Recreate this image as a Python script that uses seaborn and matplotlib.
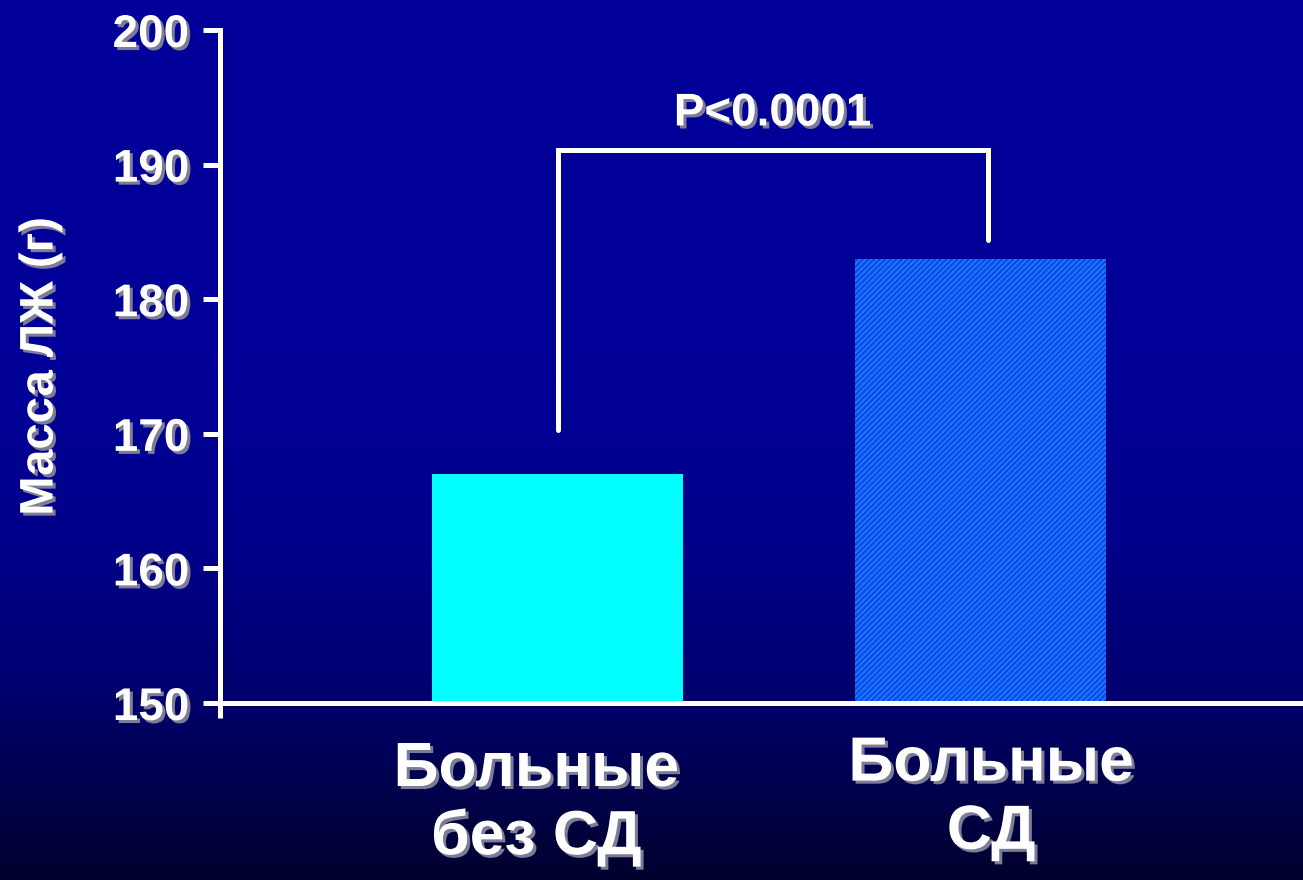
import numpy as np
import pandas as pd
import matplotlib
matplotlib.use("Agg")
import matplotlib.pyplot as plt
import matplotlib.patheffects as pe
from matplotlib.colors import LinearSegmentedColormap
import seaborn as sns

# Data
groups = ["Больные\nбез СД", "Больные\nСД"]
lv_mass = [167, 183]
y_ticks = [150, 160, 170, 180, 190, 200]
p_label = "P<0.0001"
bracket_y = [170.3, 191.1, 191.1, 184.4]

sns.set_theme(style="white")
plt.rcParams["font.family"] = ["Liberation Sans", "DejaVu Sans"]
plt.rcParams["hatch.linewidth"] = 1.6

fig = plt.figure(figsize=(13.03, 8.8), dpi=100)

# Vertical gradient background
bg = fig.add_axes([0, 0, 1, 1], zorder=-10)
cmap = LinearSegmentedColormap.from_list(
    "bg", [(0.0, "#000099"), (0.40, "#000098"), (0.62, "#00008a"),
           (0.78, "#000070"), (1.0, "#00002e")])
grad = np.linspace(0, 1, 512).reshape(-1, 1)
bg.imshow(grad, aspect="auto", cmap=cmap, extent=[0, 1, 0, 1], origin="upper")
bg.set_axis_off()

ax = fig.add_axes([220 / 1303, 1 - 703 / 880, 1 - 220 / 1303, (703 - 30) / 880])
ax.set_facecolor("none")

df = pd.DataFrame({"group": groups, "mass": lv_mass})
sns.barplot(data=df, x="group", y="mass", hue="group",
            palette=["#00ffff", "#1f7cff"], width=0.593, legend=False,
            saturation=1, linewidth=0, ax=ax, zorder=2)
for bar in ax.patches:
    bar.set_linewidth(0)
hatched = ax.patches[1]
hatched.set_hatch("//////")
hatched.set_edgecolor("#0a4ae8")

ax.set_ylim(150, 200)
ax.set_xlim(-0.798, 1.762)
ax.set_yticks(y_ticks)

shadow = [pe.SimplePatchShadow(offset=(2.2, -2.2), shadow_rgbFace="#7c7c96", alpha=1), pe.Normal()]

ax.set_yticklabels([str(t) for t in y_ticks], fontsize=33, fontweight="bold",
                   color="white")
for lbl in ax.get_yticklabels():
    lbl.set_path_effects(shadow)
ax.tick_params(axis="y", direction="out", length=12, width=3.6, color="white",
               pad=10, left=True)
ax.tick_params(axis="x", length=0)
ax.set_xticks([])
ax.set_xlabel("")

ax.set_ylabel("Масса ЛЖ (г)", fontsize=34, fontweight="bold", color="white",
              labelpad=36)
ax.yaxis.label.set_path_effects(shadow)

for side in ["top", "right"]:
    ax.spines[side].set_visible(False)
for side in ["left", "bottom"]:
    ax.spines[side].set_color("white")
    ax.spines[side].set_linewidth(3.6)
    ax.spines[side].set_zorder(5)

# Left spine continues a little below the baseline
ax.plot([0, 0], [0, -0.022], transform=ax.transAxes, color="white", lw=3.6,
        clip_on=False, solid_capstyle="butt", zorder=5)

# Group labels under the axis
label_x = [-0.05, 1.025]
label_y = [-0.055, -0.047]
for x, y, txt in zip(label_x, label_y, groups):
    ax.text(x, y, txt, transform=ax.get_xaxis_transform(), ha="center",
            va="top", fontsize=45, fontweight="bold", color="white",
            linespacing=1.2, path_effects=shadow)

# Significance bracket
bx = [0, 0, 1.018, 1.018]
ax.plot(bx, bracket_y, color="white", lw=3.6, clip_on=False,
        solid_joinstyle="miter", zorder=4)
ax.text(np.mean([bx[0], bx[2]]), 193.8, p_label, ha="center", va="center",
        fontsize=33, fontweight="bold", color="white", path_effects=shadow)

fig.savefig("out.png", dpi=100)
